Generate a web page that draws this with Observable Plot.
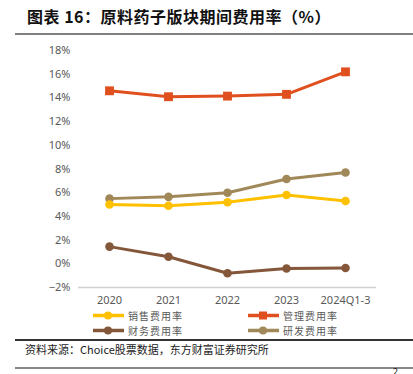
<!DOCTYPE html>
<html><head><meta charset="utf-8">
<script src="https://cdn.jsdelivr.net/npm/d3@7"></script>
<script src="https://cdn.jsdelivr.net/npm/@observablehq/plot@0.6"></script>
<style>
html,body{margin:0;padding:0;background:#fff;width:413px;height:374px;overflow:hidden;position:relative;font-family:"Noto Sans CJK SC","Noto Sans",sans-serif;}
.abs{position:absolute;}
#title{left:27px;top:4px;font-size:16px;font-weight:bold;color:#111;white-space:nowrap;letter-spacing:0.5px;}
#tline{left:15px;top:33px;width:398px;height:2px;background:#7f7f7f;}
#chart{left:0;top:40px;}
.leg{font-size:10px;line-height:11px;color:#595959;display:flex;align-items:center;white-space:nowrap;height:11px;}
.leg span{line-height:11px;display:block;height:11px;letter-spacing:1px;}
.leg svg{margin-right:4px;display:block;}
#cline{left:15px;top:339px;width:398px;height:1.5px;background:#333;}
#caption{left:25px;top:341px;font-size:11px;color:#222;white-space:nowrap;}
#bline{left:15px;top:367px;width:398px;height:2px;background:#888;}
#pnum{left:393px;top:369px;font-size:9px;line-height:5px;height:5px;color:#222;}
</style></head>
<body>
<div id="title" class="abs">图表 16：原料药子版块期间费用率（%）</div>
<div id="tline" class="abs"></div>
<div id="chart" class="abs"></div>
<div id="legend"></div>
<div id="cline" class="abs"></div>
<div id="caption" class="abs">资料来源：Choice股票数据，东方财富证券研究所</div>
<div id="bline" class="abs"></div>
<div id="pnum" class="abs">2</div>
<script>
const years = ["2020","2021","2022","2023","2024Q1-3"];
const seriesNames = ["销售费用率","管理费用率","财务费用率","研发费用率"];
const sales = [5.0, 4.9, 5.2, 5.8, 5.3];
const admin = [14.6, 14.1, 14.15, 14.3, 16.2];
const finance = [1.45, 0.6, -0.8, -0.4, -0.35];
const rnd = [5.5, 5.65, 6.0, 7.15, 7.7];
const yTicks = [-2,0,2,4,6,8,10,12,14,16,18];
const colors = ["#FFC000","#E0501F","#85573A","#A08858"];
const symbols = ["circle","square","circle","circle"];

const seriesVals = [sales, admin, finance, rnd];
const data = [];
seriesNames.forEach((s,i)=>years.forEach((y,j)=>data.push({series:s, year:y, value:seriesVals[i][j]})));
const drawOrder = ["管理费用率","财务费用率","研发费用率","销售费用率"];

const marks = [
  Plot.ruleY([-2], {stroke:"#d0d0d0", strokeWidth:1.5}),
  Plot.axisY({ticks:yTicks, tickSize:0, tickPadding:8, tickFormat:d=>(d<0?"\u2212"+(-d):d)+"%", fontSize:11, color:"#595959", label:null}),
  Plot.axisX({tickSize:0, tickPadding:9, fontSize:11, color:"#595959", label:null})
];
drawOrder.forEach(s=>{
  const i = seriesNames.indexOf(s);
  const d = data.filter(r=>r.series===s);
  marks.push(Plot.line(d,{x:"year", y:"value", stroke:colors[i], strokeWidth:3}));
  marks.push(Plot.dot(d,{x:"year", y:"value", fill:colors[i], stroke:"none", symbol:symbols[i], r: symbols[i]==="square"?5:4.3}));
});

const chart = Plot.plot({
  width:413, height:272,
  marginTop:10, marginBottom:25, marginLeft:78, marginRight:37,
  style:{fontFamily:"'Noto Sans', 'DejaVu Sans', sans-serif", background:"#fff"},
  x:{type:"point", domain:years, padding:0.5},
  y:{domain:[-2,18]},
  marks
});
document.getElementById("chart").appendChild(chart);

// legend
const legPos = [[93,309.5],[248,309.5],[93,324.5],[248,324.5]];
const lg = document.getElementById("legend");
seriesNames.forEach((s,i)=>{
  const el = document.createElement("div");
  el.className = "abs leg";
  el.style.left = legPos[i][0]+"px";
  el.style.top = legPos[i][1]+"px";
  const mk = symbols[i]==="square"
    ? `<rect x="11" y="1.5" width="8" height="8" fill="${colors[i]}"/>`
    : `<circle cx="15" cy="5.5" r="4" fill="${colors[i]}"/>`;
  el.innerHTML = `<svg width="31" height="11"><line x1="0" x2="31" y1="5.5" y2="5.5" stroke="${colors[i]}" stroke-width="3.5" stroke-linecap="round"/>${mk}</svg><span>${s}</span>`;
  lg.appendChild(el);
});
</script>
</body></html>
